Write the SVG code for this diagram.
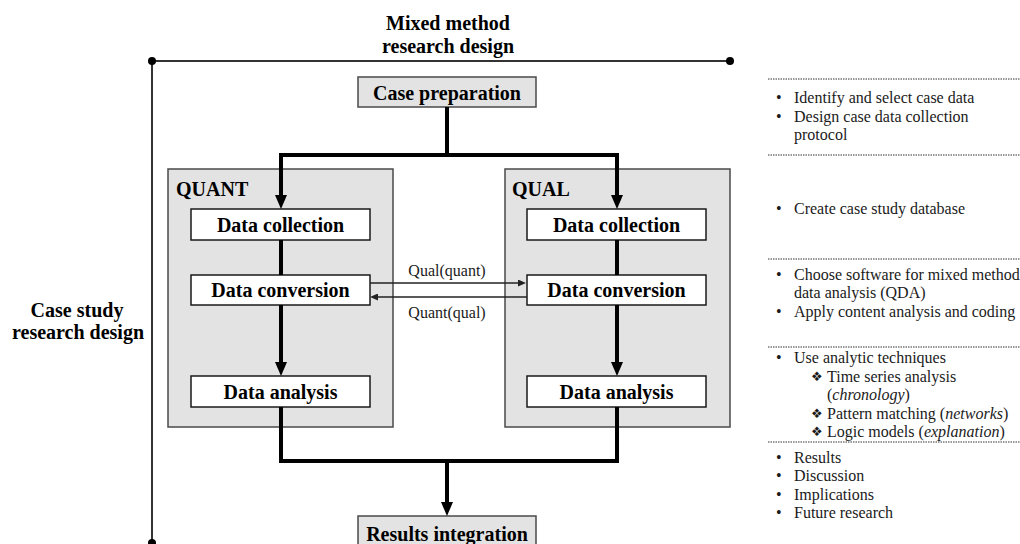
<svg xmlns="http://www.w3.org/2000/svg" width="1020" height="544" viewBox="0 0 1020 544">
  <style>
    .tb { font-family: "Liberation Serif", "Times New Roman", serif; font-weight: bold; font-size: 20px; fill: #000; }
    .tr { font-family: "Liberation Serif", "Times New Roman", serif; font-size: 16px; fill: #1a1a1a; }
    .ta { font-family: "Liberation Serif", "Times New Roman", serif; font-size: 16px; fill: #1a1a1a; }
    .sym { font-family: "DejaVu Sans", sans-serif; font-size: 13px; fill: #1a1a1a; }
    .gbox { fill: #e3e3e3; stroke: #4a4a4a; stroke-width: 1.5; }
    .wbox { fill: #ffffff; stroke: #1a1a1a; stroke-width: 1.5; }
    .thick { fill: none; stroke: #000; stroke-width: 4; }
    .thin { fill: none; stroke: #222; stroke-width: 1.5; }
    .frame { fill: none; stroke: #333; stroke-width: 2; }
    .sep { fill: none; stroke: #333; stroke-width: 1; stroke-dasharray: 1.5 1; }
  </style>
  <defs>
    <marker id="bigHead" markerUnits="userSpaceOnUse" markerWidth="14" markerHeight="12" refX="2" refY="6" orient="auto">
      <path d="M0,0 L14,6 L0,12 z" fill="#000"/>
    </marker>
    <marker id="smallHead" markerUnits="userSpaceOnUse" markerWidth="8" markerHeight="7" refX="1" refY="3.5" orient="auto">
      <path d="M0,0 L8,3.5 L0,7 z" fill="#222"/>
    </marker>
  </defs>

  <rect width="1020" height="544" fill="#fff"/>

  <!-- design frame: mixed method axis (top) and case study axis (left) -->
  <g id="frame">
    <text class="tb" x="448" y="30" text-anchor="middle">Mixed method</text>
    <text class="tb" x="448" y="53" text-anchor="middle">research design</text>
    <line class="frame" x1="152" y1="61" x2="730" y2="61"/>
    <line class="frame" x1="152" y1="61" x2="152" y2="543"/>
    <circle cx="152" cy="61" r="4" fill="#000"/>
    <circle cx="730" cy="61" r="4" fill="#000"/>
    <circle cx="152" cy="543" r="4" fill="#000"/>
    <text class="tb" x="77" y="317" text-anchor="middle">Case study</text>
    <text class="tb" x="78" y="339" text-anchor="middle">research design</text>
  </g>

  <!-- strand containers -->
  <g id="quant">
    <rect class="gbox" x="168" y="169" width="225" height="258"/>
    <text class="tb" x="176" y="196">QUANT</text>
  </g>
  <g id="qual">
    <rect class="gbox" x="505" y="169" width="225" height="258"/>
    <text class="tb" x="512" y="196">QUAL</text>
  </g>

  <g id="case-preparation">
    <rect class="gbox" x="358" y="77" width="178" height="30"/>
    <text class="tb" x="447" y="100" text-anchor="middle">Case preparation</text>
  </g>

  <g id="quant-data-collection">
    <rect class="wbox" x="191" y="209" width="179" height="31"/>
    <text class="tb" x="280.5" y="232" text-anchor="middle">Data collection</text>
  </g>
  <g id="quant-data-conversion">
    <rect class="wbox" x="191" y="275" width="179" height="30"/>
    <text class="tb" x="280.5" y="297" text-anchor="middle">Data conversion</text>
  </g>
  <g id="quant-data-analysis">
    <rect class="wbox" x="191" y="376" width="179" height="31"/>
    <text class="tb" x="280.5" y="399" text-anchor="middle">Data analysis</text>
  </g>

  <g id="qual-data-collection">
    <rect class="wbox" x="527" y="209" width="179" height="31"/>
    <text class="tb" x="616.5" y="232" text-anchor="middle">Data collection</text>
  </g>
  <g id="qual-data-conversion">
    <rect class="wbox" x="527" y="275" width="179" height="30"/>
    <text class="tb" x="616.5" y="297" text-anchor="middle">Data conversion</text>
  </g>
  <g id="qual-data-analysis">
    <rect class="wbox" x="527" y="376" width="179" height="31"/>
    <text class="tb" x="616.5" y="399" text-anchor="middle">Data analysis</text>
  </g>

  <g id="results-integration">
    <rect class="gbox" x="358" y="516" width="178" height="34"/>
    <text class="tb" x="447" y="541" text-anchor="middle">Results integration</text>
  </g>

  <g id="connectors">
    <!-- split from case preparation into both strands -->
    <path class="thick" d="M447,107 V155 M279,155 H619"/>
    <line class="thick" x1="281" y1="155" x2="281" y2="197" marker-end="url(#bigHead)"/>
    <line class="thick" x1="617" y1="155" x2="617" y2="197" marker-end="url(#bigHead)"/>
    <!-- within strands -->
    <line class="thick" x1="281" y1="240" x2="281" y2="275"/>
    <line class="thick" x1="617" y1="240" x2="617" y2="275"/>
    <line class="thick" x1="281" y1="305" x2="281" y2="364" marker-end="url(#bigHead)"/>
    <line class="thick" x1="617" y1="305" x2="617" y2="364" marker-end="url(#bigHead)"/>
    <!-- merge into results integration -->
    <path class="thick" d="M281,407 V461 H617 V407"/>
    <line class="thick" x1="447" y1="461" x2="447" y2="504" marker-end="url(#bigHead)"/>
    <!-- data conversion exchange -->
    <line class="thin" x1="370" y1="283" x2="519" y2="283" marker-end="url(#smallHead)"/>
    <line class="thin" x1="527" y1="297" x2="377" y2="297" marker-end="url(#smallHead)"/>
    <text class="ta" x="447" y="276" text-anchor="middle">Qual(quant)</text>
    <text class="ta" x="447" y="318" text-anchor="middle">Quant(qual)</text>
  </g>

  <!-- activity notes per stage -->
  <g id="notes">
    <line class="sep" x1="768" y1="79" x2="1020" y2="79"/>
    <line class="sep" x1="768" y1="155" x2="1020" y2="155"/>
    <line class="sep" x1="768" y1="259" x2="1020" y2="259"/>
    <line class="sep" x1="768" y1="347" x2="1020" y2="347"/>
    <line class="sep" x1="768" y1="442" x2="1020" y2="442"/>

    <text class="tr" x="776" y="103">•</text>
    <text class="tr" x="794" y="103">Identify and select case data</text>
    <text class="tr" x="776" y="122">•</text>
    <text class="tr" x="794" y="122">Design case data collection</text>
    <text class="tr" x="794" y="140">protocol</text>

    <text class="tr" x="776" y="214">•</text>
    <text class="tr" x="794" y="214">Create case study database</text>

    <text class="tr" x="776" y="280">•</text>
    <text class="tr" x="794" y="280">Choose software for mixed method</text>
    <text class="tr" x="794" y="298">data analysis (QDA)</text>
    <text class="tr" x="776" y="317">•</text>
    <text class="tr" x="794" y="317">Apply content analysis and coding</text>

    <text class="tr" x="776" y="363">•</text>
    <text class="tr" x="794" y="363">Use analytic techniques</text>
    <text class="sym" x="811" y="381">❖</text>
    <text class="tr" x="827" y="382">Time series analysis</text>
    <text class="tr" x="827" y="400">(<tspan font-style="italic">chronology</tspan>)</text>
    <text class="sym" x="811" y="418">❖</text>
    <text class="tr" x="827" y="419">Pattern matching (<tspan font-style="italic">networks</tspan>)</text>
    <text class="sym" x="811" y="436">❖</text>
    <text class="tr" x="827" y="437">Logic models (<tspan font-style="italic">explanation</tspan>)</text>

    <text class="tr" x="776" y="463">•</text>
    <text class="tr" x="794" y="463">Results</text>
    <text class="tr" x="776" y="481">•</text>
    <text class="tr" x="794" y="481">Discussion</text>
    <text class="tr" x="776" y="500">•</text>
    <text class="tr" x="794" y="500">Implications</text>
    <text class="tr" x="776" y="518">•</text>
    <text class="tr" x="794" y="518">Future research</text>
  </g>
</svg>
